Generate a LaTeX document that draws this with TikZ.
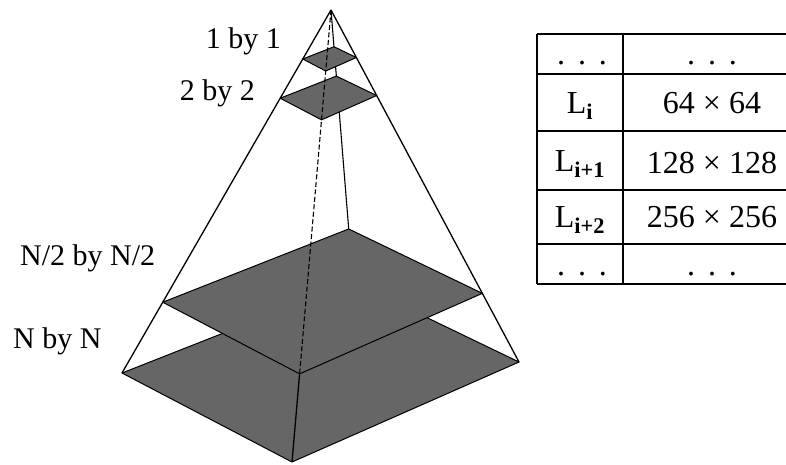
\documentclass[tikz,border=0pt]{standalone}
\usepackage{fontspec}
\setmainfont{Liberation Serif}
\usetikzlibrary{calc}
\definecolor{layergray}{gray}{0.4}
\newcommand{\tdots}{.\hspace{13pt}.\hspace{13pt}.}
\tikzset{
  edge/.style={line width=1.3pt, black},
  layer/.style={fill=layergray, draw=black, line width=1pt, line join=round},
  hidden/.style={line width=1.1pt, black, dash pattern=on 5pt off 2.5pt},
  lbl/.style={inner sep=0pt, font=\fontsize{30}{36}\selectfont},
  tbltxt/.style={inner sep=0pt, font=\fontsize{32}{38}\selectfont},
  tblline/.style={line width=1.6pt, black}
}
\begin{document}
\begin{tikzpicture}[x=1pt,y=-1pt]
\useasboundingbox (0,0) rectangle (786,464);
% pyramid corners
\coordinate (A) at (331,10);
\coordinate (L) at (122,373);
\coordinate (F) at (292,462);
\coordinate (R) at (519,362);
\coordinate (B) at (353,282);
\foreach \n/\t in {p/0.135, q/0.243, s/0.805}{
  \coordinate (\n L) at ($(A)!\t!(L)$);
  \coordinate (\n F) at ($(A)!\t!(F)$);
  \coordinate (\n R) at ($(A)!\t!(R)$);
  \coordinate (\n B) at ($(A)!\t!(B)$);
}
% base layer N by N
\draw[layer] (L) -- (F) -- (R) -- (B) -- cycle;
% back edge (partly hidden by the layers)
\draw[edge, line width=1.1pt] (A) -- (sB);
% N/2 layer
\draw[layer] (sL) -- (sF) -- (sR) -- (sB) -- cycle;
% 2 by 2 and 1 by 1 layers
\draw[layer] (qL) -- (qF) -- (qR) -- (qB) -- cycle;
\draw[layer] (pL) -- (pF) -- (pR) -- (pB) -- cycle;
% front edge
\draw[hidden] (A) -- (sF);
\draw[edge] (sF) -- (F);
% side edges
\draw[edge] (A) -- (L);
\draw[edge] (A) -- (R);
% labels
\node[lbl, anchor=base east] (l1) at (281,48) {1 by 1};
\node[lbl, anchor=base east] (l2) at (255,100) {2 by 2};
\node[lbl, anchor=base west] (l3) at (20,265) {N/2 by N/2};
\node[lbl, anchor=base west] (l4) at (13,348) {N by N};
% table
\foreach \y in {34,74,131,190,244,284}{
  \draw[tblline] (537,\y) -- (786,\y);
}
\draw[tblline] (537,34) -- (537,284);
\draw[tblline] (623,34) -- (623,284);
\node[tbltxt, anchor=base] (c11) at (582,64) {\tdots};
\node[tbltxt, anchor=base] (c12) at (712,64) {\tdots};
\node[tbltxt, anchor=base] (c21) at (580,113) {L\textsubscript{\textbf{i}}};
\node[tbltxt, anchor=base] (c22) at (712,113) {64 × 64};
\node[tbltxt, anchor=base] (c31) at (580,171) {L\textsubscript{\textbf{i+1}}};
\node[tbltxt, anchor=base] (c32) at (712,173) {128 × 128};
\node[tbltxt, anchor=base] (c41) at (580,227) {L\textsubscript{\textbf{i+2}}};
\node[tbltxt, anchor=base] (c42) at (712,227) {256 × 256};
\node[tbltxt, anchor=base] (c51) at (582,275) {\tdots};
\node[tbltxt, anchor=base] (c52) at (712,275) {\tdots};
\end{tikzpicture}
\end{document}
